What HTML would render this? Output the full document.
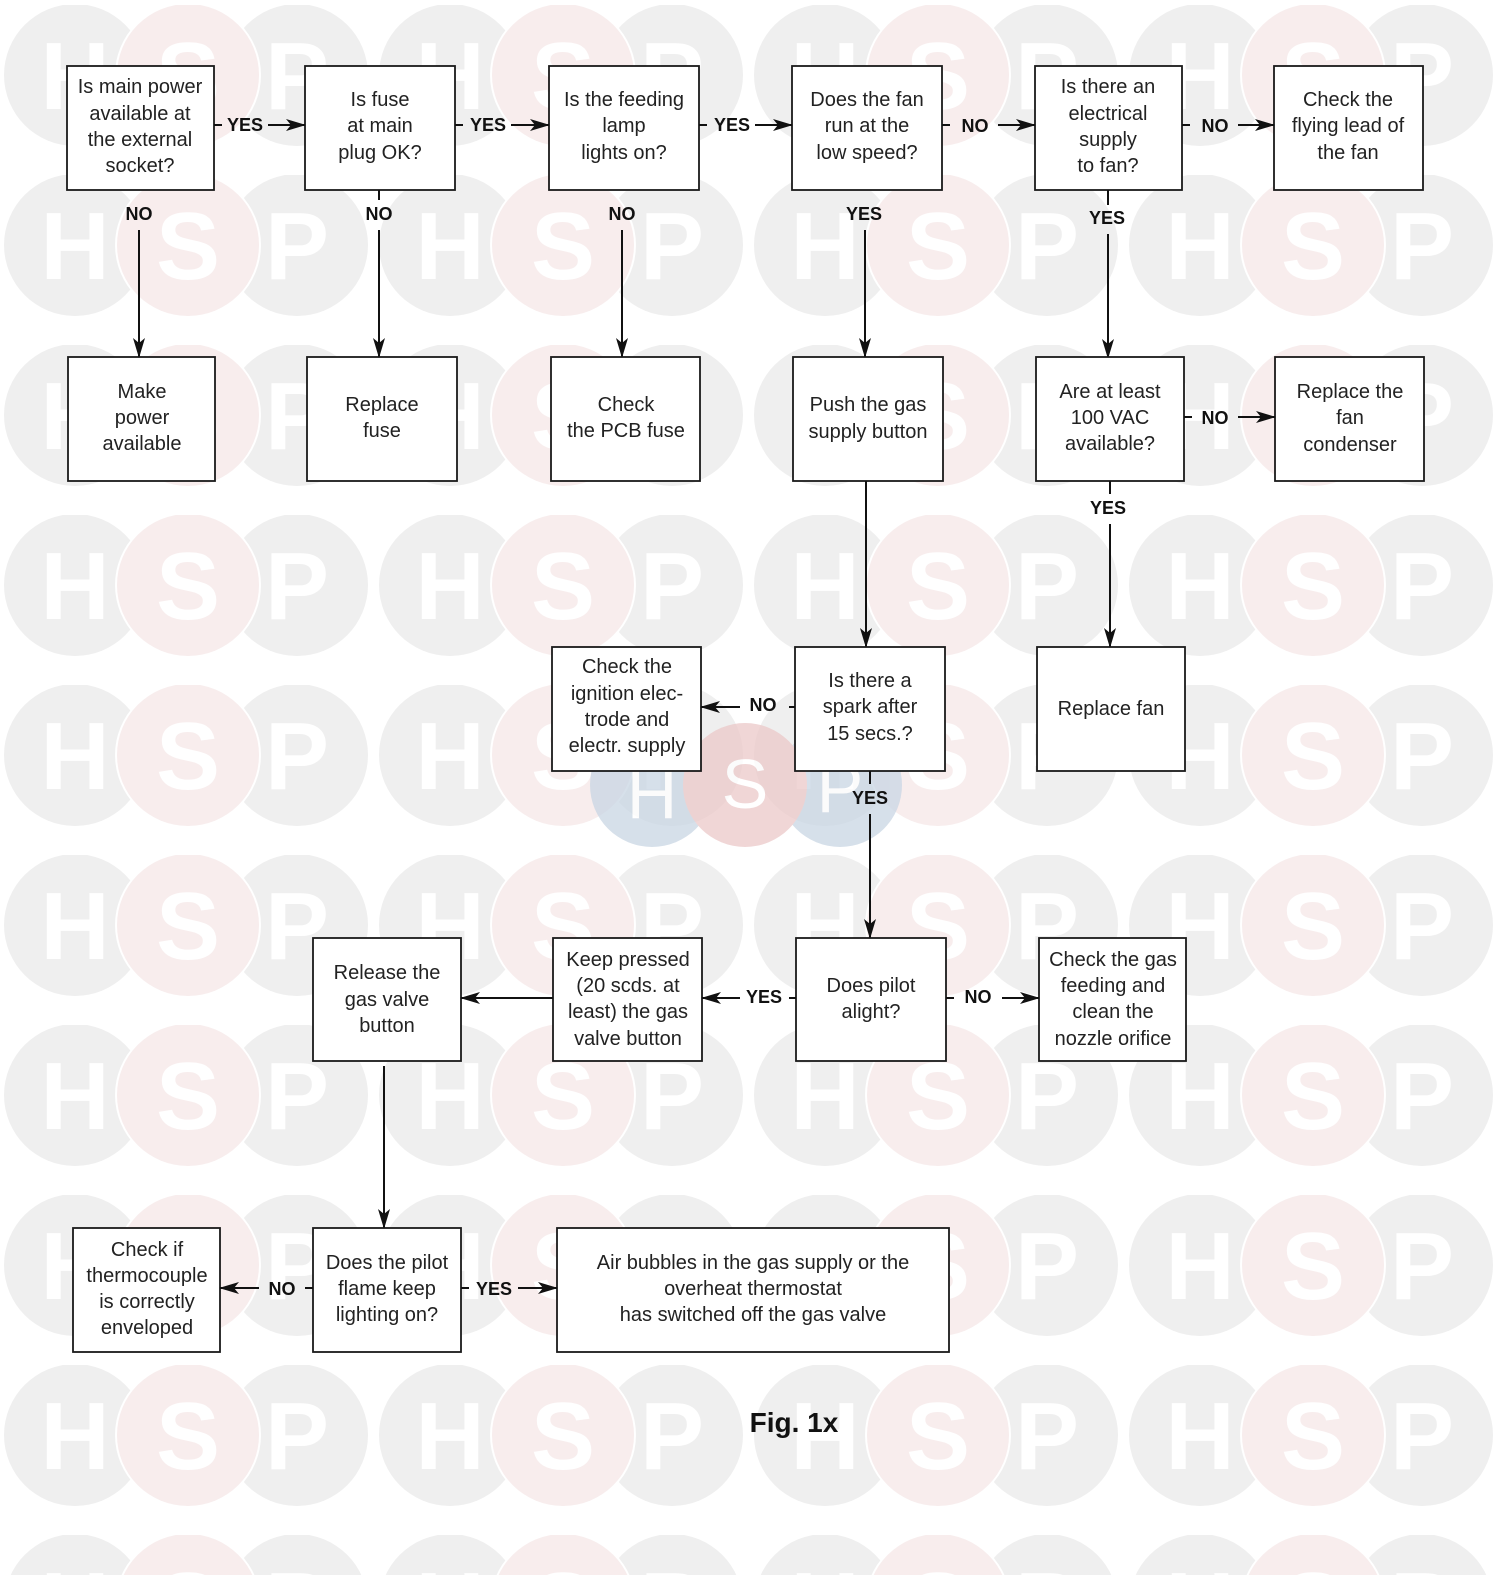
<!DOCTYPE html>
<html><head><meta charset="utf-8"><style>
html,body{margin:0;padding:0;background:#fff;}
svg{display:block;}
.b{fill:#fff;stroke:#1a1a1a;stroke-width:1.8;}
.t{font-family:"Liberation Sans",sans-serif;font-size:20px;fill:#222;text-anchor:middle;}
.l{font-family:"Liberation Sans",sans-serif;font-size:18px;font-weight:bold;fill:#111;text-anchor:middle;}
.ln{stroke:#111;stroke-width:2;fill:none;}
.w{font-family:"Liberation Sans",sans-serif;font-weight:bold;font-size:96px;fill:#fff;text-anchor:middle;}
</style></head><body>
<svg width="1500" height="1575" viewBox="0 0 1500 1575" xmlns="http://www.w3.org/2000/svg">
<defs>
<pattern id="wm" x="0" y="5" width="375" height="170" patternUnits="userSpaceOnUse">
<circle cx="75" cy="70" r="71" fill="#efefef"/>
<circle cx="297" cy="70" r="71" fill="#efefef"/>
<circle cx="450" cy="70" r="71" fill="#efefef"/>
<circle cx="188" cy="70" r="73" fill="#fff"/>
<circle cx="188" cy="70" r="71" fill="#f8eded"/>
<text x="75" y="104" class="w">H</text>
<text x="188" y="104" class="w">S</text>
<text x="297" y="104" class="w">P</text>
</pattern>
<marker id="a" markerWidth="20" markerHeight="12" refX="19" refY="6" orient="auto" markerUnits="userSpaceOnUse"><path d="M0,0 L20,6 L0,12 L5,6 Z" fill="#111"/></marker>
</defs>
<rect width="1500" height="1575" fill="url(#wm)"/>
<g opacity="0.75">
<circle cx="652" cy="785" r="62" fill="#c9d6e4"/>
<circle cx="840" cy="785" r="62" fill="#c9d6e4"/>
<circle cx="745" cy="785" r="62" fill="#ecc9c9"/>
<text x="652" y="818" class="w" style="font-size:70px;font-weight:normal">H</text>
<text x="745" y="808" class="w" style="font-size:70px;font-weight:normal">S</text>
<text x="840" y="812" class="w" style="font-size:70px;font-weight:normal">P</text>
</g>

<rect class="b" x="67" y="66" width="147" height="124"/>
<text class="t" x="140" y="93">Is main power</text><text class="t" x="140" y="120">available at</text><text class="t" x="140" y="146">the external</text><text class="t" x="140" y="172">socket?</text>
<rect class="b" x="305" y="66" width="150" height="124"/>
<text class="t" x="380" y="106">Is fuse</text><text class="t" x="380" y="132">at main</text><text class="t" x="380" y="159">plug OK?</text>
<rect class="b" x="549" y="66" width="150" height="124"/>
<text class="t" x="624" y="106">Is the feeding</text><text class="t" x="624" y="132">lamp</text><text class="t" x="624" y="159">lights on?</text>
<rect class="b" x="792" y="66" width="150" height="124"/>
<text class="t" x="867" y="106">Does the fan</text><text class="t" x="867" y="132">run at the</text><text class="t" x="867" y="159">low speed?</text>
<rect class="b" x="1035" y="66" width="147" height="124"/>
<text class="t" x="1108" y="93">Is there an</text><text class="t" x="1108" y="120">electrical</text><text class="t" x="1108" y="146">supply</text><text class="t" x="1108" y="172">to fan?</text>
<rect class="b" x="1274" y="66" width="149" height="124"/>
<text class="t" x="1348" y="106">Check the</text><text class="t" x="1348" y="132">flying lead of</text><text class="t" x="1348" y="159">the fan</text>

<line class="ln" x1="214" y1="125" x2="222" y2="125"/><text class="l" x="245" y="131">YES</text><line class="ln" x1="268" y1="125" x2="305" y2="125" marker-end="url(#a)"/>
<line class="ln" x1="455" y1="125" x2="463" y2="125"/><text class="l" x="488" y="131">YES</text><line class="ln" x1="511" y1="125" x2="549" y2="125" marker-end="url(#a)"/>
<line class="ln" x1="699" y1="125" x2="707" y2="125"/><text class="l" x="732" y="131">YES</text><line class="ln" x1="755" y1="125" x2="792" y2="125" marker-end="url(#a)"/>
<line class="ln" x1="942" y1="125" x2="950" y2="125"/><text class="l" x="975" y="132">NO</text><line class="ln" x1="998" y1="125" x2="1035" y2="125" marker-end="url(#a)"/>
<line class="ln" x1="1182" y1="125" x2="1190" y2="125"/><text class="l" x="1215" y="132">NO</text><line class="ln" x1="1238" y1="125" x2="1274" y2="125" marker-end="url(#a)"/>

<text class="l" x="139" y="220">NO</text><line class="ln" x1="139" y1="230" x2="139" y2="357" marker-end="url(#a)"/>
<line class="ln" x1="379" y1="190" x2="379" y2="200"/><text class="l" x="379" y="220">NO</text><line class="ln" x1="379" y1="230" x2="379" y2="357" marker-end="url(#a)"/>
<text class="l" x="622" y="220">NO</text><line class="ln" x1="622" y1="230" x2="622" y2="357" marker-end="url(#a)"/>
<text class="l" x="864" y="220">YES</text><line class="ln" x1="865" y1="230" x2="865" y2="357" marker-end="url(#a)"/>
<line class="ln" x1="1108" y1="190" x2="1108" y2="205"/><text class="l" x="1107" y="224">YES</text><line class="ln" x1="1108" y1="234" x2="1108" y2="358" marker-end="url(#a)"/>

<rect class="b" x="68" y="357" width="147" height="124"/>
<text class="t" x="142" y="398">Make</text><text class="t" x="142" y="424">power</text><text class="t" x="142" y="450">available</text>
<rect class="b" x="307" y="357" width="150" height="124"/>
<text class="t" x="382" y="411">Replace</text><text class="t" x="382" y="437">fuse</text>
<rect class="b" x="551" y="357" width="149" height="124"/>
<text class="t" x="626" y="411">Check</text><text class="t" x="626" y="437">the PCB fuse</text>
<rect class="b" x="793" y="357" width="150" height="124"/>
<text class="t" x="868" y="411">Push the gas</text><text class="t" x="868" y="438">supply button</text>
<rect class="b" x="1036" y="357" width="148" height="124"/>
<text class="t" x="1110" y="398">Are at least</text><text class="t" x="1110" y="424">100 VAC</text><text class="t" x="1110" y="450">available?</text>
<rect class="b" x="1275" y="357" width="149" height="124"/>
<text class="t" x="1350" y="398">Replace the</text><text class="t" x="1350" y="424">fan</text><text class="t" x="1350" y="451">condenser</text>

<line class="ln" x1="1184" y1="417" x2="1192" y2="417"/><text class="l" x="1215" y="424">NO</text><line class="ln" x1="1238" y1="417" x2="1275" y2="417" marker-end="url(#a)"/>
<line class="ln" x1="866" y1="481" x2="866" y2="647" marker-end="url(#a)"/>
<line class="ln" x1="1110" y1="481" x2="1110" y2="494"/>
<text class="l" x="1108" y="514">YES</text><line class="ln" x1="1110" y1="524" x2="1110" y2="647" marker-end="url(#a)"/>

<rect class="b" x="552" y="647" width="149" height="124"/>
<text class="t" x="627" y="673">Check the</text><text class="t" x="627" y="700">ignition elec-</text><text class="t" x="627" y="726">trode and</text><text class="t" x="627" y="752">electr. supply</text>
<rect class="b" x="795" y="647" width="150" height="124"/>
<text class="t" x="870" y="687">Is there a</text><text class="t" x="870" y="713">spark after</text><text class="t" x="870" y="740">15 secs.?</text>
<rect class="b" x="1037" y="647" width="148" height="124"/>
<text class="t" x="1111" y="715">Replace fan</text>
<line class="ln" x1="795" y1="707" x2="789" y2="707"/><text class="l" x="763" y="711">NO</text><line class="ln" x1="740" y1="707" x2="701" y2="707" marker-end="url(#a)"/>
<text class="l" x="870" y="804">YES</text><line class="ln" x1="870" y1="771" x2="870" y2="784"/><line class="ln" x1="870" y1="814" x2="870" y2="938" marker-end="url(#a)"/>

<rect class="b" x="313" y="938" width="148" height="123"/>
<text class="t" x="387" y="979">Release the</text><text class="t" x="387" y="1006">gas valve</text><text class="t" x="387" y="1032">button</text>
<rect class="b" x="553" y="938" width="149" height="123"/>
<text class="t" x="628" y="966">Keep pressed</text><text class="t" x="628" y="992">(20 scds. at</text><text class="t" x="628" y="1018">least) the gas</text><text class="t" x="628" y="1045">valve button</text>
<rect class="b" x="796" y="938" width="150" height="123"/>
<text class="t" x="871" y="992">Does pilot</text><text class="t" x="871" y="1018">alight?</text>
<rect class="b" x="1039" y="938" width="147" height="123"/>
<text class="t" x="1113" y="966">Check the gas</text><text class="t" x="1113" y="992">feeding and</text><text class="t" x="1113" y="1018">clean the</text><text class="t" x="1113" y="1045">nozzle orifice</text>
<line class="ln" x1="553" y1="998" x2="461" y2="998" marker-end="url(#a)"/>
<line class="ln" x1="796" y1="998" x2="789" y2="998"/><text class="l" x="764" y="1003">YES</text><line class="ln" x1="740" y1="998" x2="702" y2="998" marker-end="url(#a)"/>
<line class="ln" x1="946" y1="998" x2="954" y2="998"/><text class="l" x="978" y="1003">NO</text><line class="ln" x1="1002" y1="998" x2="1039" y2="998" marker-end="url(#a)"/>
<line class="ln" x1="384" y1="1066" x2="384" y2="1228" marker-end="url(#a)"/>

<rect class="b" x="73" y="1228" width="147" height="124"/>
<text class="t" x="147" y="1256">Check if</text><text class="t" x="147" y="1282">thermocouple</text><text class="t" x="147" y="1308">is correctly</text><text class="t" x="147" y="1334">enveloped</text>
<rect class="b" x="313" y="1228" width="148" height="124"/>
<text class="t" x="387" y="1269">Does the pilot</text><text class="t" x="387" y="1295">flame keep</text><text class="t" x="387" y="1321">lighting on?</text>
<rect class="b" x="557" y="1228" width="392" height="124"/>
<text class="t" x="753" y="1269">Air bubbles in the gas supply or the</text><text class="t" x="753" y="1295">overheat thermostat</text><text class="t" x="753" y="1321">has switched off the gas valve</text>
<line class="ln" x1="313" y1="1288" x2="305" y2="1288"/><text class="l" x="282" y="1295">NO</text><line class="ln" x1="259" y1="1288" x2="220" y2="1288" marker-end="url(#a)"/>
<line class="ln" x1="461" y1="1288" x2="469" y2="1288"/><text class="l" x="494" y="1295">YES</text><line class="ln" x1="518" y1="1288" x2="557" y2="1288" marker-end="url(#a)"/>

<text x="794" y="1432" style="font-family:'Liberation Sans',sans-serif;font-weight:bold;font-size:28px;fill:#111;text-anchor:middle">Fig. 1x</text>
</svg>
</body></html>
